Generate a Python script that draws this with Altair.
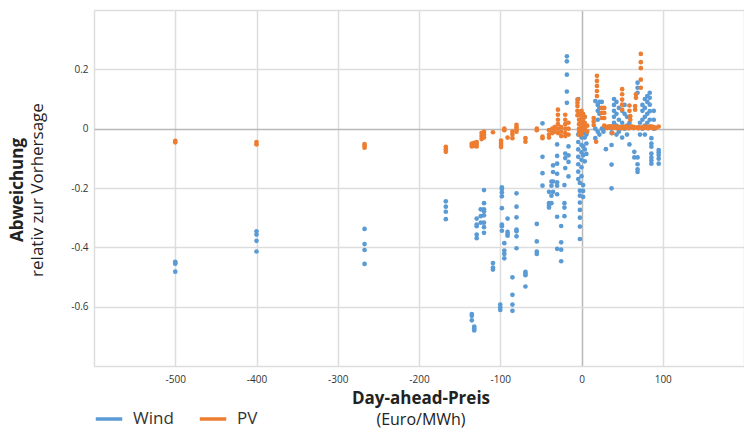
import altair as alt
import pandas as pd

# ---- data (price in Euro/MWh, deviation relative to forecast)
wind_columns = [-500, -400, -267, -167, -135, -132, -129, -124, -120, -109, -100, -98, -95, -91,
                -85, -80, -69, -55, -48, -40, -37, -35, -30, -25, -21, -20, -18, -16, -4, -2, 0,
                2, 4, 6, 17, 20, 22, 25, 27, 30, 37, 40, 43, 46, 50, 53, 56, 59, 65, 69, 72, 75,
                78, 81, 84, 86, 89, 95]
wind_values = [
    [-0.449, -0.452, -0.455, -0.482],
    [-0.346, -0.357, -0.378, -0.414],
    [-0.338, -0.389, -0.409, -0.456],
    [-0.245, -0.263, -0.280, -0.305],
    [-0.625, -0.631, -0.646],
    [-0.667, -0.673, -0.680],
    [-0.303, -0.323, -0.329, -0.357, -0.369],
    [-0.272, -0.295, -0.317],
    [-0.207, -0.251, -0.272, -0.278, -0.292, -0.317, -0.332, -0.351],
    [-0.453, -0.468, -0.475],
    [-0.593, -0.602, -0.611],
    [-0.198, -0.203, -0.215, -0.228, -0.268, -0.323, -0.329, -0.344],
    [-0.386, -0.411, -0.422, -0.437],
    [-0.303, -0.348, -0.355, -0.361],
    [-0.501, -0.560, -0.593, -0.614],
    [-0.218, -0.263, -0.299, -0.340, -0.346, -0.363, -0.403],
    [-0.483, -0.488, -0.494, -0.532],
    [-0.321, -0.380, -0.414, -0.422],
    [0.018, -0.095, -0.150, -0.192],
    [-0.213, -0.251, -0.260, -0.266],
    [-0.178, -0.192, -0.226, -0.251],
    [-0.124, -0.146, -0.178, -0.213],
    [-0.053, -0.092, -0.118, -0.152, -0.181, -0.192, -0.221, -0.297, -0.405],
    [-0.328, -0.383, -0.408, -0.447],
    [-0.190, -0.251, -0.266, -0.295],
    [-0.084, -0.099, -0.133],
    [0.244, 0.227, 0.182, 0.125, 0.087],
    [-0.060, -0.090, -0.112, -0.161],
    [0.100, -0.020, -0.045, -0.070, -0.095, -0.120, -0.145, -0.170],
    [-0.183, -0.209, -0.226, -0.249, -0.274, -0.300, -0.330, -0.372],
    [0.030, -0.010, -0.030, -0.055, -0.080, -0.105, -0.130, -0.160],
    [-0.190, -0.210, -0.230, -0.060, -0.090, -0.015],
    [0.040, -0.030, -0.070, -0.110],
    [-0.020, -0.050, -0.085],
    [0.093, 0.000, -0.032],
    [0.080, 0.060, 0.030, -0.010],
    [0.090, 0.070, 0.050, -0.020],
    [0.090, 0.000],
    [0.000, -0.010],
    [-0.069],
    [0.000, -0.015, -0.055, -0.121, -0.201],
    [0.100, 0.080, 0.060, 0.040, 0.020],
    [0.090, 0.050, 0.010, -0.020],
    [0.070, 0.030, -0.010],
    [0.060, 0.020, -0.030],
    [0.080, 0.050, 0.000],
    [0.040, 0.010, -0.020],
    [-0.053, 0.020],
    [-0.078, -0.097],
    [0.155, 0.138, 0.121, -0.097, -0.120, -0.137, -0.146],
    [0.020, -0.020],
    [0.080, 0.060, 0.030, 0.000],
    [0.100, 0.070, 0.040, 0.010, -0.020],
    [0.110, 0.090, 0.050, 0.020],
    [0.121, 0.104, 0.081, 0.059, 0.030],
    [-0.032, -0.050, -0.061, -0.084, -0.097, -0.107, -0.118],
    [0.060, 0.030, 0.000],
    [-0.072, -0.080, -0.089, -0.101, -0.118],
]

pv_columns = [-500, -400, -267, -167, -135, -132, -129, -123, -120, -109, -99, -95, -91, -85,
              -80, -69, -55, -48, -40, -36, -33, -29, -25, -20, -16, -5, -3, 0, 2, 4, 7, 15,
              18, 19, 25, 28, 31, 34, 37, 38, 40, 43, 46, 49, 50, 52, 55, 58, 59, 60, 61, 64,
              66, 67, 70, 73, 76, 79, 82, 85, 88, 91, 95]
pv_values = [
    [-0.041, -0.046],
    [-0.045, -0.053],
    [-0.052, -0.057, -0.064],
    [-0.061, -0.069, -0.078],
    [-0.050, -0.055, -0.060],
    [-0.048, -0.058],
    [-0.045, -0.052, -0.060],
    [-0.015, -0.025, -0.035],
    [-0.010, -0.020, -0.030],
    [-0.012],
    [-0.040, -0.048, -0.055, -0.062],
    [0.000, -0.005],
    [-0.030],
    [-0.010, -0.020, -0.032],
    [0.013, 0.005, -0.002, -0.010],
    [-0.032, -0.044],
    [0.000, -0.005],
    [-0.027, -0.032],
    [-0.005, -0.020, -0.030],
    [0.000, -0.015],
    [0.005, -0.010],
    [0.064, 0.047, 0.030, 0.015, 0.000, -0.015],
    [0.005, -0.010, -0.025],
    [0.047, 0.030, 0.015, 0.000, -0.015, -0.025],
    [0.020, 0.000, -0.020],
    [0.098, 0.087, 0.076, 0.060, 0.045],
    [0.050, 0.030, 0.015, 0.000, -0.010, -0.020],
    [0.060, 0.040, 0.020, 0.010, 0.000, -0.010, -0.020],
    [0.050, 0.030, 0.010, -0.005],
    [0.040, 0.020, 0.000],
    [0.010, -0.010],
    [0.036, 0.024, 0.012],
    [-0.044],
    [0.178, 0.161, 0.144, 0.127, 0.110],
    [0.070, 0.053, 0.036],
    [0.070, 0.053, 0.036, 0.010],
    [0.006, 0.002],
    [0.004, 0.008],
    [0.008, 0.003],
    [-0.015],
    [0.003, 0.007],
    [0.006, 0.002],
    [0.002, 0.006],
    [0.005, 0.001],
    [0.133, 0.116, 0.098, 0.081, 0.064],
    [0.007, 0.003],
    [0.003, 0.007],
    [0.005, 0.001],
    [0.078, 0.060],
    [0.042, 0.030],
    [0.004, 0.008],
    [0.006, 0.002],
    [0.076, 0.064],
    [0.116, 0.104, 0.004],
    [0.005, 0.001],
    [0.252, 0.224, 0.204, 0.165, 0.138, 0.004],
    [0.006, 0.002],
    [0.003, 0.007],
    [0.005, 0.001],
    [0.004, 0.008],
    [0.006, 0.002],
    [0.004, 0.001],
    [0.007],
]

series_names = ["Wind", "PV"]
series_colors = ["#5B9BD5", "#ED7D31"]

rows = []
for name, cols, vals in [("Wind", wind_columns, wind_values), ("PV", pv_columns, pv_values)]:
    for price, devs in zip(cols, vals):
        for d in devs:
            rows.append({"Serie": name, "Preis": price, "Abweichung": d})
df = pd.DataFrame(rows)
df["order"] = df["Serie"].map({"Wind": 0, "PV": 1})

FONT = "Open Sans"

xlabel = "datum.value <= -600 || datum.value >= 200 ? '' : (datum.value < 0 ? '-' : '') + format(abs(datum.value), 'd')"
ylabel = "datum.value <= -0.8 || datum.value >= 0.4 ? '' : (datum.value == 0 ? '0' : (datum.value < 0 ? '-' : '') + format(abs(datum.value), '.1f'))"
grid_color = {"condition": {"test": "abs(datum.value) < 1e-9", "value": "#b8b8b8"}, "value": "#dddddd"}

legend = alt.Legend(
    title=None, orient="none", legendX=0, legendY=394, direction="horizontal",
    symbolType="stroke", symbolSize=700, symbolStrokeWidth=3.5, symbolOpacity=1,
    labelFont=FONT, labelFontSize=17, labelColor="#333333", labelOffset=9,
    columnPadding=18,
)
color_scale = alt.Scale(domain=series_names, range=series_colors)

points = alt.Chart(df).mark_point(filled=True, shape="circle", size=22, opacity=1, strokeWidth=0).encode(
    x=alt.X("Preis:Q", scale=alt.Scale(domain=[-600, 200], nice=False),
            axis=alt.Axis(values=[-600, -500, -400, -300, -200, -100, 0, 100, 200], labelExpr=xlabel,
                          title=None, gridColor=grid_color, gridWidth=1.5, domain=False,
                          ticks=False, labelPadding=8, labelFont=FONT, labelFontSize=10,
                          labelColor="#333333")),
    y=alt.Y("Abweichung:Q", scale=alt.Scale(domain=[-0.8, 0.4], nice=False),
            axis=alt.Axis(values=[-0.8, -0.6, -0.4, -0.2, 0, 0.2, 0.4], labelExpr=ylabel,
                          title=None, gridColor=grid_color, gridWidth=1.5, domain=False,
                          ticks=False, labelPadding=6, labelFont=FONT, labelFontSize=10,
                          labelColor="#333333")),
    fill=alt.Fill("Serie:N", scale=color_scale, legend=legend),
    stroke=alt.Stroke("Serie:N", scale=color_scale, legend=legend),
    order=alt.Order("order:Q"),
)

def label(text, x, y, bold=False, angle=0, size=17):
    return alt.Chart(pd.DataFrame({"t": [text]})).mark_text(
        font=FONT, fontSize=size, fontWeight="bold" if bold else "normal", color="#222222",
        angle=angle, align="center", baseline="middle",
    ).encode(text="t:N", x=alt.value(x), y=alt.value(y))

chart = alt.layer(
    points,
    label("Day-ahead-Preis", 327, 389, bold=True),
    label("(Euro/MWh)", 327, 410, size=16),
    label("Abweichung", -76, 180, bold=True, angle=270),
    label("relativ zur Vorhersage", -56, 180, angle=270),
).properties(
    width=650, height=356,
    autosize=alt.AutoSizeParams(type="none"),
    padding={"left": 94, "top": 10, "right": 0, "bottom": 63},
).configure_view(stroke=None).configure(background="white")

chart.save("out.html", embed_options={"renderer": "svg", "actions": False})
